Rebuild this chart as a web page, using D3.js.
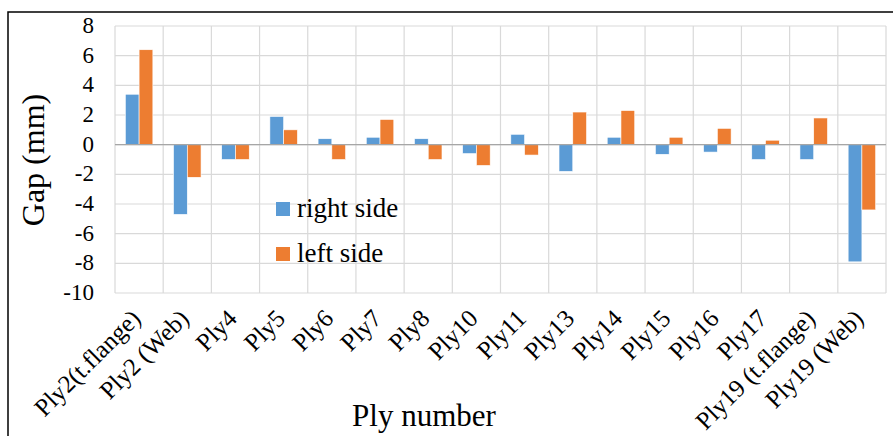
<!DOCTYPE html>
<html>
<head>
<meta charset="utf-8">
<script src="https://cdn.jsdelivr.net/npm/d3@7"></script>
<style>
  html, body { margin: 0; padding: 0; background: #fff; }
  svg { display: block; }
  text { font-family: "Liberation Serif", "Times New Roman", serif; fill: #000; }
</style>
</head>
<body>
<svg id="chart" width="893" height="436"></svg>
<script>
const categories = ["Ply2(t.flange)", "Ply2 (Web)", "Ply4", "Ply5", "Ply6", "Ply7", "Ply8", "Ply10", "Ply11", "Ply13", "Ply14", "Ply15", "Ply16", "Ply17", "Ply19 (t.flange)", "Ply19 (Web)"];
const seriesNames = ["right side", "left side"];
const rightSide = [3.4, -4.7, -1.0, 1.9, 0.4, 0.5, 0.4, -0.6, 0.7, -1.8, 0.5, -0.65, -0.5, -1.0, -1.0, -7.9];
const leftSide  = [6.4, -2.2, -1.0, 1.0, -1.0, 1.7, -1.0, -1.4, -0.7, 2.2, 2.3, 0.5, 1.1, 0.3, 1.8, -4.4];
const yTicks = [-10, -8, -6, -4, -2, 0, 2, 4, 6, 8];
const colors = ["#5B9BD5", "#ED7D31"];

const svg = d3.select("#chart");
const plot = { left: 115, right: 886, top: 26, bottom: 293 };

// outer frame
svg.append("rect").attr("x", 8).attr("y", 12).attr("width", 900).attr("height", 440)
  .attr("fill", "none").attr("stroke", "#000").attr("stroke-width", 1.5);

const x = d3.scaleBand().domain(categories).range([plot.left, plot.right]).padding(0);
const y = d3.scaleLinear().domain([-10, 8]).range([plot.bottom, plot.top]);
const bw = x.bandwidth();
const barW = bw / 3.5;
const x1 = d3.scaleBand().domain(seriesNames).range([(bw - 2 * barW) / 2, (bw + 2 * barW) / 2]).padding(0);

// horizontal gridlines
svg.append("g").selectAll("line").data(yTicks).join("line")
  .attr("x1", plot.left).attr("x2", plot.right)
  .attr("y1", d => y(d)).attr("y2", d => y(d))
  .attr("stroke", "#d9d9d9").attr("stroke-width", 1.2);
// vertical gridlines at category boundaries
const bounds = categories.map(c => x(c)).concat([x(categories[categories.length - 1]) + bw]);
svg.append("g").selectAll("line").data(bounds).join("line")
  .attr("x1", d => d).attr("x2", d => d)
  .attr("y1", plot.top).attr("y2", plot.bottom)
  .attr("stroke", "#d9d9d9").attr("stroke-width", 1.2);

// bars
const data = [rightSide, leftSide];
data.forEach((vals, si) => {
  svg.append("g").selectAll("rect").data(vals).join("rect")
    .attr("x", (d, i) => x(categories[i]) + x1(seriesNames[si]))
    .attr("width", x1.bandwidth())
    .attr("y", d => y(Math.max(0, d)))
    .attr("height", d => Math.abs(y(d) - y(0)))
    .attr("fill", colors[si])
    .attr("stroke", "#fff").attr("stroke-width", 0.6);
});

// zero line
svg.append("line").attr("x1", plot.left).attr("x2", plot.right)
  .attr("y1", y(0)).attr("y2", y(0))
  .attr("stroke", "#a6a6a6").attr("stroke-width", 1.2);

// y axis labels
const yAxis = d3.axisLeft(y).tickValues(yTicks).tickFormat(d => String(d)).tickSize(0).tickPadding(0);
const gy = svg.append("g").attr("transform", `translate(${plot.left - 21},0)`).call(yAxis)
  .attr("font-family", "Liberation Serif").attr("font-size", 23);
gy.select(".domain").remove();
gy.selectAll("text").attr("font-size", 23).attr("font-family", "Liberation Serif").attr("fill", "#000").attr("dy", "0.28em");

// x axis labels
const xAxis = d3.axisBottom(x).tickSize(0).tickPadding(0);
const gx = svg.append("g").attr("transform", `translate(0,${plot.bottom})`).call(xAxis)
  .attr("font-family", "Liberation Serif").attr("font-size", 25);
gx.select(".domain").remove();
gx.selectAll("text")
  .attr("font-size", 25).attr("font-family", "Liberation Serif").attr("fill", "#000")
  .attr("text-anchor", "end")
  .attr("dy", 0).attr("y", 0)
  .attr("transform", "translate(3,27) rotate(-45)");

// axis titles
svg.append("text").attr("x", 424).attr("y", 426).attr("text-anchor", "middle")
  .attr("font-size", 31).text("Ply number");
svg.append("text").attr("transform", "translate(44,160) rotate(-90)").attr("text-anchor", "middle")
  .attr("font-size", 32).text("Gap (mm)");

// legend
const legend = svg.append("g");
seriesNames.forEach((n, i) => {
  const ly = 202 + i * 45;
  legend.append("rect").attr("x", 276).attr("y", ly).attr("width", 14).attr("height", 14).attr("fill", colors[i]);
  legend.append("text").attr("x", 297).attr("y", ly + 15).attr("font-size", 27).text(n);
});
</script>
</body>
</html>
